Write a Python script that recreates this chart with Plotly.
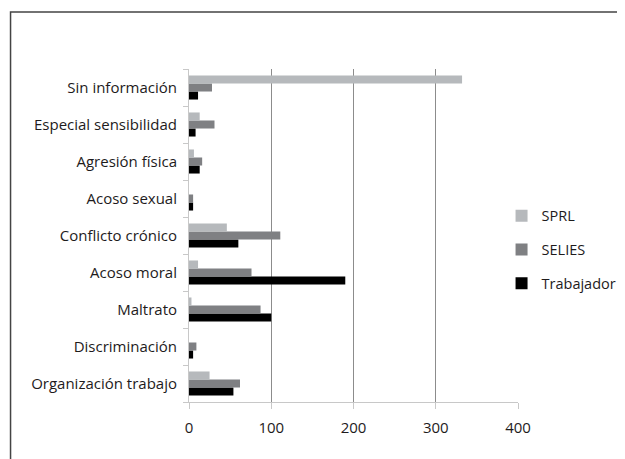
import plotly.graph_objects as go

categories = ["Organización trabajo", "Discriminación", "Maltrato", "Acoso moral",
              "Conflicto crónico", "Acoso sexual", "Agresión física",
              "Especial sensibilidad", "Sin información"]
sprl = [25, 0, 3, 11, 46, 0, 6, 13, 332]
selies = [62, 9, 87, 76, 111, 5, 16, 31, 28]
trabajador = [54, 5, 100, 190, 60, 5, 13, 8, 11]
x_ticks = [0, 100, 200, 300, 400]

FONT = "Open Sans"
fig = go.Figure()
fig.add_trace(go.Bar(y=categories, x=trabajador, name="Trabajador", orientation="h",
                     marker=dict(color="#000000", line=dict(width=0)),
                     legendgroup="c", legendrank=3))
fig.add_trace(go.Bar(y=categories, x=selies, name="SELIES", orientation="h",
                     marker=dict(color="#7f8083", line=dict(width=0)),
                     legendgroup="b", legendrank=2))
fig.add_trace(go.Bar(y=categories, x=sprl, name="SPRL", orientation="h",
                     marker=dict(color="#b6b9bc", line=dict(width=0)),
                     legendgroup="a", legendrank=1))

# the page has an 8px body margin; work in reference pixel coords shifted by 8
OFF = 8
W, H = 625 - OFF, 459 - OFF
L, R, T, B = 188.5 - OFF, W - (518.5 - OFF), 69 - OFF, H - (402.5 - OFF)
pw, ph = W - L - R, H - T - B

def px(x):
    return (x - OFF - L) / pw

def py(y):
    return (H - B - (y - OFF)) / ph

fig.update_layout(
    width=W, height=H,
    margin=dict(l=L, r=R, t=T, b=B, pad=0, autoexpand=False),
    paper_bgcolor="white", plot_bgcolor="white",
    barmode="group", bargap=0.35, bargroupgap=0,
    font=dict(family=FONT, size=15, color="#1e1b1c"),
    showlegend=True,
    legend=dict(traceorder="grouped", x=px(502), xanchor="left", y=py(250),
                yanchor="middle", tracegroupgap=12, font=dict(size=14.5, color="#1e1b1c"),
                bgcolor="rgba(0,0,0,0)", itemwidth=30),
    xaxis=dict(range=[0, 400], tickvals=x_ticks, showgrid=True, gridcolor="#8c8c8c",
               gridwidth=1, zeroline=False, showline=True, linecolor="#c8c8c8",
               ticks="outside", ticklen=6, tickcolor="#c8c8c8", ticklabelstandoff=6,
               tickfont=dict(size=15), automargin=False),
    yaxis=dict(categoryorder="array", categoryarray=categories, showgrid=False,
               showline=True, linecolor="#c8c8c8", ticks="outside", tickson="boundaries",
               ticklen=5, tickcolor="#c8c8c8", ticklabelstandoff=8,
               tickfont=dict(size=15), automargin=False),
    shapes=[dict(type="rect", xref="paper", yref="paper",
                 x0=px(9.5), x1=px(640), y0=py(470), y1=py(12),
                 line=dict(color="#444444", width=1.5), fillcolor="rgba(0,0,0,0)",
                 layer="below")],
)

fig.write_html("out.html")
